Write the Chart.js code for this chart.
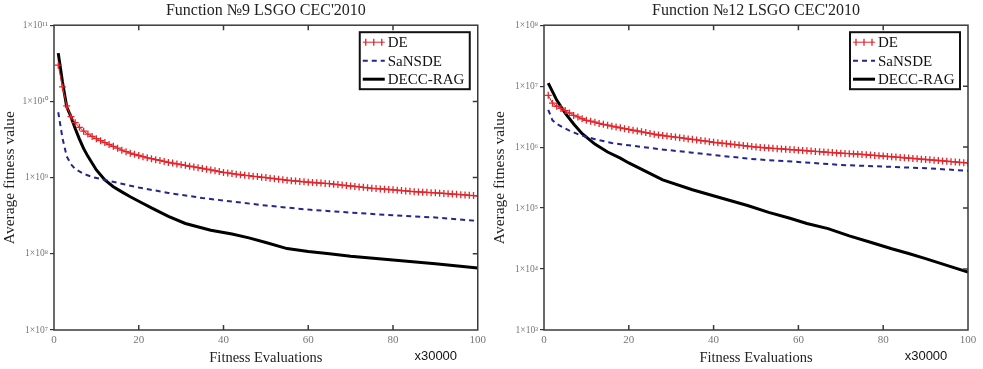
<!DOCTYPE html>
<html>
<head>
<meta charset="utf-8">
<script src="https://cdn.jsdelivr.net/npm/chart.js@4.4.1/dist/chart.umd.min.js"></script>
<style>
  html, body { margin: 0; padding: 0; background: #fff; }
  #wrap { position: relative; width: 983px; height: 369px; }
  .box { position: absolute; top: 0; height: 369px; }
</style>
</head>
<body>
<div id="wrap">
  <div class="box" style="left:0;width:490px"><canvas id="f9" width="490" height="369"></canvas></div>
  <div class="box" style="left:490px;width:493px"><canvas id="f12" width="493" height="369"></canvas></div>
</div>
<script>
// x positions of the DE markers (fitness evaluations, x30000)
const evalsDE = Array.from({ length: 100 }, (_, i) => i + 1);
const xTicks = [0, 20, 40, 60, 80, 100];

// Function 9
const f9Ticks = [1e7, 1e8, 1e9, 1e10, 1e11];
const f9DE = [
  2.99e10, 1.55e10, 8.71e9, 6.31e9, 5.25e9, 4.57e9, 4.07e9, 3.72e9, 3.47e9, 3.24e9,
  3.05e9, 2.88e9, 2.72e9, 2.57e9, 2.43e9, 2.29e9, 2.19e9, 2.09e9, 2.02e9, 1.95e9,
  1.88e9, 1.82e9, 1.77e9, 1.72e9, 1.68e9, 1.63e9, 1.58e9, 1.55e9, 1.51e9, 1.48e9,
  1.45e9, 1.41e9, 1.38e9, 1.35e9, 1.32e9, 1.29e9, 1.26e9, 1.23e9, 1.20e9, 1.17e9,
  1.15e9, 1.13e9, 1.11e9, 1.09e9, 1.07e9, 1.06e9, 1.04e9, 1.03e9, 1.01e9, 1.00e9,
  9.84e8, 9.68e8, 9.53e8, 9.38e8, 9.23e8, 9.12e8, 9.02e8, 8.91e8, 8.81e8, 8.71e8,
  8.63e8, 8.55e8, 8.47e8, 8.39e8, 8.32e8, 8.20e8, 8.09e8, 7.98e8, 7.87e8, 7.76e8,
  7.66e8, 7.55e8, 7.45e8, 7.35e8, 7.24e8, 7.18e8, 7.11e8, 7.05e8, 6.98e8, 6.92e8,
  6.84e8, 6.76e8, 6.68e8, 6.61e8, 6.53e8, 6.49e8, 6.44e8, 6.40e8, 6.35e8, 6.31e8,
  6.25e8, 6.19e8, 6.14e8, 6.08e8, 6.03e8, 5.97e8, 5.92e8, 5.86e8, 5.81e8, 5.75e8
];
const f9SaX = [1, 2, 3, 4, 5, 7, 9, 12, 16, 20, 27, 35, 40, 50, 60, 70, 80, 90, 100];
const f9Sa = [7.2e9, 3.3e9, 1.9e9, 1.5e9, 1.3e9, 1.12e9, 1.02e9, 9.3e8, 8.3e8, 7.4e8,
  6.3e8, 5.4e8, 5.0e8, 4.3e8, 3.8e8, 3.47e8, 3.2e8, 3.0e8, 2.7e8];
const f9RagX = [1, 2, 3, 4, 5, 6, 7, 8, 10, 12, 14, 16, 18, 20, 23, 27, 31, 37, 42, 46,
  50, 55, 60, 65, 70, 80, 90, 100];
const f9Rag = [4.3e10, 1.8e10, 8.5e9, 6.3e9, 4.4e9, 3.2e9, 2.4e9, 1.9e9, 1.26e9, 9.3e8,
  7.6e8, 6.5e8, 5.6e8, 4.9e8, 4.0e8, 3.1e8, 2.5e8, 2.04e8, 1.82e8, 1.62e8,
  1.41e8, 1.17e8, 1.07e8, 1.0e8, 9.3e7, 8.3e7, 7.4e7, 6.5e7];

// Function 12
const f12Ticks = [1e3, 1e4, 1e5, 1e6, 1e7, 1e8];
const f12DE = [
  7.08e6, 5.25e6, 4.68e6, 4.32e6, 3.98e6, 3.63e6, 3.31e6, 3.13e6, 2.92e6, 2.75e6,
  2.66e6, 2.57e6, 2.45e6, 2.37e6, 2.29e6, 2.21e6, 2.14e6, 2.07e6, 2.01e6, 1.95e6,
  1.89e6, 1.84e6, 1.78e6, 1.73e6, 1.68e6, 1.63e6, 1.58e6, 1.55e6, 1.52e6, 1.49e6,
  1.46e6, 1.43e6, 1.40e6, 1.36e6, 1.34e6, 1.31e6, 1.28e6, 1.26e6, 1.23e6, 1.20e6,
  1.18e6, 1.16e6, 1.14e6, 1.12e6, 1.10e6, 1.08e6, 1.06e6, 1.04e6, 1.02e6, 1.00e6,
  9.89e5, 9.77e5, 9.66e5, 9.55e5, 9.44e5, 9.33e5, 9.23e5, 9.12e5, 9.02e5, 8.91e5,
  8.81e5, 8.71e5, 8.61e5, 8.51e5, 8.41e5, 8.32e5, 8.22e5, 8.13e5, 8.04e5, 7.94e5,
  7.87e5, 7.80e5, 7.73e5, 7.66e5, 7.59e5, 7.50e5, 7.40e5, 7.31e5, 7.21e5, 7.13e5,
  7.03e5, 6.95e5, 6.86e5, 6.78e5, 6.68e5, 6.61e5, 6.52e5, 6.43e5, 6.35e5, 6.27e5,
  6.18e5, 6.10e5, 6.03e5, 5.94e5, 5.86e5, 5.78e5, 5.71e5, 5.64e5, 5.56e5, 5.50e5
];
const f12SaX = [1, 2, 3, 4.5, 6, 8.5, 12, 16, 20, 27, 35, 40, 50, 60, 70, 80, 90, 100];
const f12Sa = [4.1e6, 2.75e6, 2.4e6, 2.1e6, 1.86e6, 1.58e6, 1.35e6, 1.17e6, 1.07e6, 9.3e5,
  8.1e5, 7.4e5, 6.3e5, 5.7e5, 5.1e5, 4.8e5, 4.5e5, 4.1e5];
const f12RagX = [1, 3, 5, 7, 9, 12, 15, 18, 20, 24, 28, 35, 42, 48, 53, 58, 62, 67, 72, 77,
  82, 86, 90, 95, 100];
const f12Rag = [1.12e7, 5.9e6, 3.6e6, 2.4e6, 1.66e6, 1.12e6, 8.3e5, 6.6e5, 5.5e5, 4.0e5,
  2.9e5, 2.0e5, 1.45e5, 1.1e5, 8.5e4, 6.8e4, 5.6e4, 4.6e4, 3.5e4, 2.75e4,
  2.15e4, 1.8e4, 1.48e4, 1.15e4, 8.9e3];

const SERIF = '"Liberation Serif", "Times New Roman", serif';
const RED = '#e4242b';
const BLUE = '#25258f';

function points(xs, ys) {
  return xs.map((x, i) => ({ x: x, y: ys[i] }));
}

function powLabel(v) {
  const sup = { '0': '⁰', '1': '¹', '2': '²', '3': '³', '4': '⁴', '5': '⁵', '6': '⁶', '7': '⁷', '8': '⁸', '9': '⁹' };
  const e = String(Math.round(Math.log10(v)));
  return '1×10' + e.split('').map(d => sup[d]).join('');
}

// box, inner ticks, legend and the x30000 note
const decor = {
  id: 'decor',
  afterDraw(chart) {
    const ctx = chart.ctx, a = chart.chartArea;
    const xs = chart.scales.x, ys = chart.scales.y;
    ctx.save();
    ctx.strokeStyle = '#3a3a3a';
    ctx.lineWidth = 1.5;
    ctx.strokeRect(a.left, a.top, a.right - a.left, a.bottom - a.top);
    ctx.beginPath();
    xs.ticks.forEach(t => {
      if (t.value <= xs.min || t.value >= xs.max) return;
      const px = xs.getPixelForValue(t.value);
      ctx.moveTo(px, a.top); ctx.lineTo(px, a.top + 5);
      ctx.moveTo(px, a.bottom); ctx.lineTo(px, a.bottom - 5);
    });
    ys.ticks.forEach(t => {
      if (t.value <= ys.min || t.value >= ys.max) return;
      const py = ys.getPixelForValue(t.value);
      ctx.moveTo(a.right, py); ctx.lineTo(a.right - 5, py);
    });
    ctx.stroke();

    // legend
    const lx = a.right - 118, ly = a.top + 7, lw = 110, lh = 57;
    ctx.fillStyle = '#fff';
    ctx.fillRect(lx, ly, lw, lh);
    ctx.strokeStyle = '#111';
    ctx.lineWidth = 2;
    ctx.strokeRect(lx, ly, lw, lh);
    ctx.font = '15px ' + SERIF;
    ctx.textBaseline = 'middle';
    ctx.fillStyle = '#111';
    chart.data.datasets.forEach((ds, i) => {
      const y = ly + 10 + i * 18.5;
      ctx.beginPath();
      ctx.strokeStyle = ds.borderColor;
      ctx.lineWidth = ds.borderWidth;
      ctx.setLineDash(ds.borderDash || []);
      ctx.moveTo(lx + 3, y); ctx.lineTo(lx + 25, y);
      ctx.stroke();
      ctx.setLineDash([]);
      if (ds.pointStyle === 'cross') {
        ctx.beginPath();
        ctx.lineWidth = 1.3;
        [6, 14, 22].forEach(dx => {
          ctx.moveTo(lx + dx, y - 3.5); ctx.lineTo(lx + dx, y + 3.5);
        });
        ctx.stroke();
      }
      ctx.fillStyle = '#111';
      ctx.fillText(ds.label, lx + 28, y + 1);
    });

    ctx.font = '13px "Liberation Sans", Arial, sans-serif';
    ctx.fillStyle = '#111';
    ctx.textAlign = 'center';
    ctx.fillText('x30000', a.right - 42, 356);
    ctx.restore();
  }
};

function makeChart(id, title, yTicks, padRight, de, saX, sa, ragX, rag) {
  const ctx = document.getElementById(id).getContext('2d');
  return new Chart(ctx, {
    type: 'line',
    data: {
      datasets: [{
        label: 'DE',
        data: points(evalsDE, de),
        borderColor: RED,
        borderWidth: 1,
        pointStyle: 'cross',
        pointRadius: 3.5,
        pointBorderWidth: 1.3,
        pointBorderColor: RED,
        pointBackgroundColor: RED
      }, {
        label: 'SaNSDE',
        data: points(saX, sa),
        borderColor: BLUE,
        borderWidth: 2,
        borderDash: [5, 4],
        pointRadius: 0
      }, {
        label: 'DECC-RAG',
        data: points(ragX, rag),
        borderColor: '#000',
        borderWidth: 3,
        pointRadius: 0
      }]
    },
    options: {
      responsive: false,
      animation: false,
      layout: { padding: { left: 0, right: padRight, top: 0, bottom: 0 } },
      scales: {
        x: {
          type: 'linear',
          min: 0,
          max: 100,
          afterBuildTicks: s => { s.ticks = xTicks.map(v => ({ value: v })); },
          afterFit: s => { s.height = 39; },
          grid: { display: false, drawTicks: false },
          border: { display: false },
          ticks: { padding: 4, color: '#777', font: { family: SERIF, size: 11 } },
          title: {
            display: true,
            text: 'Fitness Evaluations',
            color: '#222',
            padding: 0,
            font: { family: SERIF, size: 14.5, lineHeight: 1.5 }
          }
        },
        y: {
          type: 'logarithmic',
          min: yTicks[0],
          max: yTicks[yTicks.length - 1],
          afterBuildTicks: s => { s.ticks = yTicks.map(v => ({ value: v })); },
          afterFit: s => { s.width = 54; },
          grid: { drawOnChartArea: false, drawTicks: true, tickLength: 4, color: '#333', lineWidth: 1.2 },
          border: { display: false },
          ticks: {
            padding: 2,
            color: '#777',
            font: { family: SERIF, size: 9.5 },
            callback: v => powLabel(v)
          },
          title: {
            display: true,
            text: 'Average fitness value',
            color: '#222',
            padding: 0,
            font: { family: SERIF, size: 15.5, lineHeight: 1.3 }
          }
        }
      },
      plugins: {
        legend: { display: false },
        tooltip: { enabled: false },
        title: {
          display: true,
          text: title,
          fullSize: false,
          color: '#222',
          padding: { top: 1, bottom: 5 },
          font: { family: SERIF, size: 16, weight: 'normal', lineHeight: 1.2 }
        }
      }
    },
    plugins: [decor]
  });
}

makeChart('f9', 'Function №9 LSGO CEC\'2010', f9Ticks, 12, f9DE, f9SaX, f9Sa, f9RagX, f9Rag);
makeChart('f12', 'Function №12 LSGO CEC\'2010', f12Ticks, 15, f12DE, f12SaX, f12Sa, f12RagX, f12Rag);
</script>
</body>
</html>
